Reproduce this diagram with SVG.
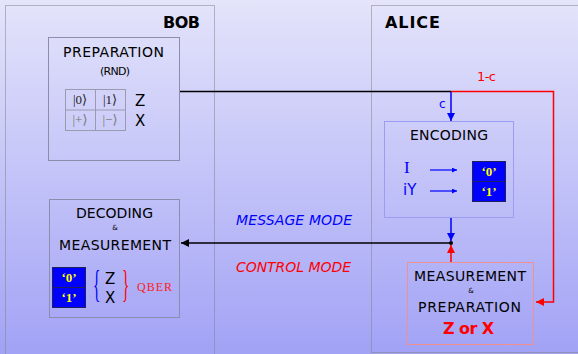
<svg xmlns="http://www.w3.org/2000/svg" width="578" height="354" viewBox="0 0 578 354">
<defs>
<linearGradient id="bg" x1="0" y1="0" x2="0" y2="1">
<stop offset="0" stop-color="#e4e4fb"/>
<stop offset="1" stop-color="#a2a2f6"/>
</linearGradient>
<marker id="ak" viewBox="0 0 10 10" refX="10" refY="5" markerWidth="8" markerHeight="8" markerUnits="userSpaceOnUse" orient="auto"><path d="M0,0 L10,5 L0,10 z" fill="#000"/></marker>
<marker id="ab" viewBox="0 0 10 10" refX="10" refY="5" markerWidth="8" markerHeight="8" markerUnits="userSpaceOnUse" orient="auto"><path d="M0,0 L10,5 L0,10 z" fill="#0000ff"/></marker>
<marker id="ar" viewBox="0 0 10 10" refX="10" refY="5" markerWidth="8" markerHeight="8" markerUnits="userSpaceOnUse" orient="auto"><path d="M0,0 L10,5 L0,10 z" fill="#ff0000"/></marker>
<marker id="abs" viewBox="0 0 10 10" refX="10" refY="5" markerWidth="6" markerHeight="5" markerUnits="userSpaceOnUse" orient="auto"><path d="M0,0 L10,5 L0,10 z" fill="#0000ff"/></marker>
</defs>
<style>
.t{font-family:"DejaVu Sans","Liberation Sans",sans-serif;}
.s{font-family:"Liberation Serif","DejaVu Serif",serif;}
.zone{fill:none;stroke:#808080;stroke-width:1;stroke-dasharray:1,1;}
.box{fill:none;stroke:#8c8cac;stroke-width:1;}
.bq{fill:#0000ff;stroke:#202060;stroke-width:1;}
.yq{font-family:"Liberation Serif","DejaVu Serif",serif;font-weight:bold;font-size:13px;fill:#ffff00;text-anchor:middle;}
</style>
<rect width="578" height="354" fill="url(#bg)"/>
<g id="bob">
<rect class="zone" x="5.5" y="5.5" width="209" height="360"/>
<text class="t" x="163" y="28" font-size="16" font-weight="bold" textLength="37">BOB</text>
</g>
<g id="alice">
<rect class="zone" x="371.5" y="5.5" width="220" height="347"/>
<text class="t" x="385" y="28" font-size="16" font-weight="bold" textLength="55">ALICE</text>
</g>
<g id="preparation">
<rect class="box" x="48.5" y="37.5" width="131" height="123"/>
<text class="t" x="63" y="57" font-size="14" textLength="101">PREPARATION</text>
<text class="t" x="100" y="75" font-size="11" textLength="30">(RND)</text>
<g fill="none" stroke="#9a9ab0" stroke-width="1">
<rect x="65.5" y="89.5" width="60" height="41"/>
<line x1="95.5" y1="89.5" x2="95.5" y2="130.5"/>
<line x1="65.5" y1="110" x2="125.5" y2="110"/>
</g>
<text class="s" x="80" y="104" font-size="13" text-anchor="middle" fill="#222">|0⟩</text>
<text class="s" x="110" y="104" font-size="13" text-anchor="middle" fill="#222">|1⟩</text>
<text class="s" x="80" y="124" font-size="13" text-anchor="middle" fill="#777">|+⟩</text>
<text class="s" x="110" y="124" font-size="13" text-anchor="middle" fill="#777">|−⟩</text>
<text class="t" x="135" y="106" font-size="15">Z</text>
<text class="t" x="135" y="126" font-size="15">X</text>
</g>
<g id="encoding">
<rect x="384.5" y="121.5" width="129" height="96" fill="none" stroke="#9c9cf2" stroke-width="1"/>
<text class="t" x="410" y="140" font-size="14" textLength="78">ENCODING</text>
<text class="s" x="404" y="173" font-size="17" fill="#0000ff">I</text>
<text class="t" x="403" y="195" font-size="15" fill="#0000ff">iY</text>
<line x1="430" y1="170" x2="457" y2="170" stroke="#0000ff" stroke-width="1.2" marker-end="url(#abs)"/>
<line x1="430" y1="191" x2="457" y2="191" stroke="#0000ff" stroke-width="1.2" marker-end="url(#abs)"/>
<rect class="bq" x="472.5" y="161.5" width="33" height="20"/>
<rect class="bq" x="472.5" y="181.5" width="33" height="20"/>
<text class="yq" x="489" y="176">‘0’</text>
<text class="yq" x="489" y="196">‘1’</text>
</g>
<g id="decoding">
<rect class="box" x="49.5" y="199.5" width="130" height="118"/>
<text class="t" x="76" y="218" font-size="14" textLength="77">DECODING</text>
<text class="t" x="115" y="230" font-size="7" text-anchor="middle">&amp;</text>
<text class="t" x="59" y="250" font-size="14" textLength="112">MEASUREMENT</text>
<rect class="bq" x="52.5" y="267.5" width="33" height="20"/>
<rect class="bq" x="52.5" y="287.5" width="33" height="20"/>
<text class="yq" x="69" y="282">‘0’</text>
<text class="yq" x="69" y="302">‘1’</text>
<text class="s" transform="translate(93,297) scale(0.45,1.1)" font-size="34" fill="#0000ff">{</text>
<text class="t" x="105" y="284" font-size="15">Z</text>
<text class="t" x="105" y="303" font-size="15">X</text>
<text class="s" transform="translate(122,297) scale(0.45,1.1)" font-size="34" fill="#ff0000">}</text>
<text class="s" x="137" y="291" font-size="12" fill="#ff2020" textLength="35">QBER</text>
</g>
<g id="measurement">
<rect x="407.5" y="262.5" width="126" height="82" fill="none" stroke="#f09090" stroke-width="1"/>
<text class="t" x="414" y="281" font-size="14" textLength="112">MEASUREMENT</text>
<text class="t" x="471" y="293" font-size="7" text-anchor="middle">&amp;</text>
<text class="t" x="418" y="312" font-size="14" textLength="103">PREPARATION</text>
<text class="t" x="443" y="334" font-size="16" font-weight="bold" fill="#ff0000" textLength="51">Z or X</text>
</g>
<g id="connectors">
<polyline points="180,91.5 451,91.5" fill="none" stroke="#000" stroke-width="1.5"/>
<polyline points="451,91.5 553.5,91.5 553.5,302 536,302" fill="none" stroke="#ff0000" stroke-width="1.5" marker-end="url(#ar)"/>
<line x1="451" y1="92" x2="451" y2="121" stroke="#0000ff" stroke-width="1.5" marker-end="url(#ab)"/>
<line x1="451" y1="218" x2="451" y2="241" stroke="#0000ff" stroke-width="1.5" marker-end="url(#ab)"/>
<line x1="451" y1="262" x2="451" y2="245" stroke="#ff0000" stroke-width="1.5" marker-end="url(#ar)"/>
<line x1="451" y1="243" x2="181" y2="243" stroke="#000" stroke-width="1.5" marker-end="url(#ak)"/>
<circle cx="451" cy="243" r="2" fill="#000"/>
<text class="t" x="477" y="81" font-size="13" fill="#ff0000" textLength="19">1-c</text>
<text class="t" x="439" y="108" font-size="12" fill="#0000ff">c</text>
<text class="t" x="236" y="225" font-size="14" font-style="italic" fill="#0000ff" textLength="116">MESSAGE MODE</text>
<text class="t" x="236" y="272" font-size="14" font-style="italic" fill="#ff0000" textLength="115">CONTROL MODE</text>
</g>
</svg>
